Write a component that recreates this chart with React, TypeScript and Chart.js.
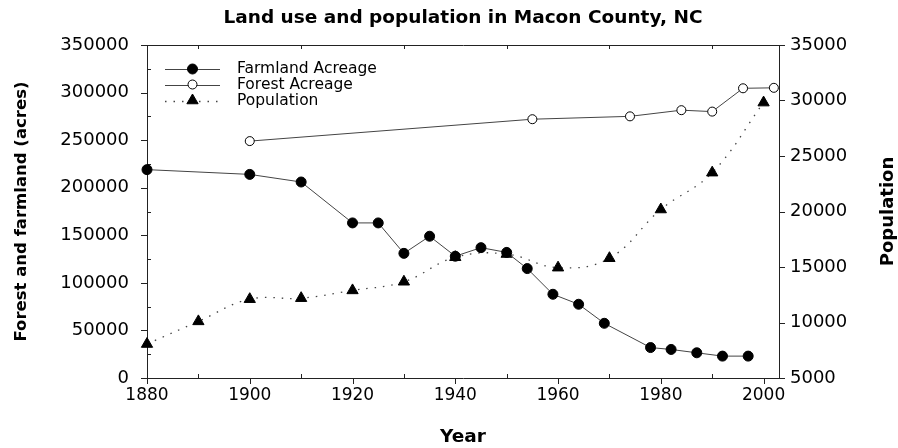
import React, { useEffect, useRef } from 'react';
import { Chart, registerables } from 'chart.js';

Chart.register(...registerables);

// ---- data ----
const farmYears = [1880, 1900, 1910, 1920, 1925, 1930, 1935, 1940, 1945, 1950, 1954, 1959, 1964, 1969, 1978, 1982, 1987, 1992, 1997];
const farmAcres = [219000, 214000, 206000, 163000, 163000, 131000, 149000, 128000, 137000, 132000, 115000, 88000, 77500, 57500, 32000, 30000, 26500, 23000, 23000];

const forestYears = [1900, 1955, 1974, 1984, 1990, 1996, 2002];
const forestAcres = [249000, 272000, 275000, 281500, 280000, 304500, 305000];

const popYears = [1880, 1890, 1900, 1910, 1920, 1930, 1940, 1950, 1960, 1970, 1980, 1990, 2000];
const population = [8060, 10100, 12100, 12190, 12890, 13670, 15880, 16170, 14940, 15790, 20180, 23500, 29810];

const seriesLabels = ['Farmland Acreage', 'Forest Acreage', 'Population'];

const xMajorTicks = [1880, 1900, 1920, 1940, 1960, 1980, 2000];
const xMinorTicks = [1890, 1910, 1930, 1950, 1970, 1990];
const leftMajorTicks = [0, 50000, 100000, 150000, 200000, 250000, 300000, 350000];
const leftMinorTicks = [25000, 75000, 125000, 175000, 225000, 275000, 325000];
const rightTicks = [5000, 10000, 15000, 20000, 25000, 30000, 35000];

const chartTitle = 'Land use and population in Macon County, NC';
const xTitle = 'Year';
const leftTitle = 'Forest and farmland (acres)';
const rightTitle = 'Population';

const FONT = '"DejaVu Sans", sans-serif';
const AXIS = '#222';

const framePlugin = {
  id: 'frameTicks',
  beforeDatasetsDraw(chart: any) {
    const { ctx, chartArea: a, scales } = chart;
    ctx.save();
    ctx.strokeStyle = AXIS;
    ctx.lineWidth = 1;
    ctx.beginPath();
    // top frame line
    ctx.moveTo(a.left, Math.round(a.top) + 0.5);
    ctx.lineTo(a.right + 1, Math.round(a.top) + 0.5);
    // x ticks
    xMajorTicks.forEach((v) => {
      const px = Math.round(scales.x.getPixelForValue(v)) + 0.5;
      ctx.moveTo(px, a.bottom);
      ctx.lineTo(px, a.bottom + 6);
    });
    xMinorTicks.forEach((v) => {
      const px = Math.round(scales.x.getPixelForValue(v)) + 0.5;
      ctx.moveTo(px, a.bottom);
      ctx.lineTo(px, a.bottom - 4);
      ctx.moveTo(px, a.top);
      ctx.lineTo(px, a.top + 4);
    });
    // left ticks
    leftMajorTicks.forEach((v) => {
      const py = Math.round(scales.y.getPixelForValue(v)) + 0.5;
      ctx.moveTo(a.left - 6, py);
      ctx.lineTo(a.left, py);
    });
    leftMinorTicks.forEach((v) => {
      const py = Math.round(scales.y.getPixelForValue(v)) + 0.5;
      ctx.moveTo(a.left, py);
      ctx.lineTo(a.left + 4, py);
    });
    // right ticks
    rightTicks.forEach((v) => {
      const py = Math.round(scales.y1.getPixelForValue(v)) + 0.5;
      ctx.moveTo(a.right, py);
      ctx.lineTo(a.right + 6, py);
    });
    ctx.stroke();
    ctx.restore();

    // right axis title, reading bottom-to-top
    ctx.save();
    ctx.translate(888, (a.top + a.bottom) / 2);
    ctx.rotate(-Math.PI / 2);
    ctx.fillStyle = '#000';
    ctx.font = 'bold 18px ' + FONT;
    ctx.textAlign = 'center';
    ctx.textBaseline = 'middle';
    ctx.fillText(rightTitle, 0, 0);
    ctx.restore();
  },
};

function drawMarker(ctx: CanvasRenderingContext2D, style: string, x: number, y: number, r: number, fill: string) {
  ctx.save();
  ctx.setLineDash([]);
  ctx.fillStyle = fill;
  ctx.strokeStyle = '#000';
  ctx.lineWidth = 1;
  ctx.beginPath();
  if (style === 'triangle') {
    ctx.moveTo(x, y - r);
    ctx.lineTo(x + r * Math.sin(2 * Math.PI / 3), y + r / 2);
    ctx.lineTo(x - r * Math.sin(2 * Math.PI / 3), y + r / 2);
    ctx.closePath();
  } else {
    ctx.arc(x, y, r, 0, Math.PI * 2);
  }
  ctx.fill();
  ctx.stroke();
  ctx.restore();
}

const legendPlugin = {
  id: 'innerLegend',
  afterDatasetsDraw(chart: any) {
    const { ctx, chartArea: a } = chart;
    const rowY = [a.top + 24, a.top + 39.5, a.top + 55.5];
    const x0 = a.left + 18;
    const x1 = a.left + 73;
    const xm = (x0 + x1) / 2;
    chart.data.datasets.forEach((ds: any, i: number) => {
      const y = rowY[i];
      ctx.save();
      ctx.strokeStyle = ds.borderColor;
      ctx.lineWidth = ds.borderWidth;
      ctx.setLineDash(ds.borderDash || []);
      ctx.beginPath();
      ctx.moveTo(x0, Math.round(y) + 0.5);
      ctx.lineTo(x1, Math.round(y) + 0.5);
      ctx.stroke();
      ctx.restore();
      drawMarker(ctx, ds.pointStyle, xm, y, ds.pointRadius, ds.pointBackgroundColor);
      ctx.save();
      ctx.fillStyle = '#000';
      ctx.font = '15.5px ' + FONT;
      ctx.textBaseline = 'middle';
      ctx.textAlign = 'left';
      ctx.fillText(seriesLabels[i], a.left + 90, y);
      ctx.restore();
    });
  },
};

export default function App() {
  const ref = useRef<HTMLCanvasElement | null>(null);

  useEffect(() => {
    if (!ref.current) return;
    const chart = new Chart(ref.current, {
      type: 'line',
      data: {
        datasets: [
          {
            label: seriesLabels[0],
            data: farmYears.map((x, i) => ({ x, y: farmAcres[i] })),
            yAxisID: 'y',
            borderColor: '#444',
            borderWidth: 1,
            pointStyle: 'circle',
            pointRadius: 5,
            pointBackgroundColor: '#000',
            pointBorderColor: '#000',
            pointBorderWidth: 1,
            tension: 0,
            clip: false,
          },
          {
            label: seriesLabels[1],
            data: forestYears.map((x, i) => ({ x, y: forestAcres[i] })),
            yAxisID: 'y',
            borderColor: '#444',
            borderWidth: 1,
            pointStyle: 'circle',
            pointRadius: 4.5,
            pointBackgroundColor: '#fff',
            pointBorderColor: '#000',
            pointBorderWidth: 1,
            tension: 0,
            clip: false,
          },
          {
            label: seriesLabels[2],
            data: popYears.map((x, i) => ({ x, y: population[i] })),
            yAxisID: 'y1',
            borderColor: '#444',
            borderWidth: 1.3,
            borderDash: [1.5, 7],
            pointStyle: 'triangle',
            pointRadius: 6.5,
            pointBackgroundColor: '#000',
            pointBorderColor: '#000',
            pointBorderWidth: 1,
            tension: 0.4,
            clip: false,
          },
        ],
      } as any,
      options: {
        animation: false,
        responsive: false,
        maintainAspectRatio: false,
        layout: { padding: 0 },
        plugins: {
          legend: { display: false },
          tooltip: { enabled: false },
          title: {
            display: true,
            fullSize: false,
            text: chartTitle,
            color: '#000',
            font: { family: FONT, size: 18.5, weight: 'bold' },
            padding: { top: 7.5, bottom: 15.3 },
          },
        },
        scales: {
          x: {
            type: 'linear',
            position: 'bottom',
            min: 1880,
            max: 2003,
            afterFit: (s: any) => { s.height = 70; },
            afterBuildTicks: (s: any) => { s.ticks = xMajorTicks.map((v) => ({ value: v })); },
            grid: { display: false, drawTicks: false },
            border: { display: true, color: AXIS, width: 1 },
            ticks: {
              color: '#000',
              padding: 7,
              maxRotation: 0,
              autoSkip: false,
              font: { family: FONT, size: 17 },
              callback: (v: any) => String(v),
            },
            title: {
              display: true,
              text: xTitle,
              color: '#000',
              font: { family: FONT, size: 18.5, weight: 'bold' },
              padding: { top: 0, bottom: 0 },
            },
          },
          y: {
            type: 'linear',
            position: 'left',
            min: 0,
            max: 350000,
            afterFit: (s: any) => { s.width = 147; },
            afterBuildTicks: (s: any) => { s.ticks = leftMajorTicks.map((v) => ({ value: v })); },
            grid: { display: false, drawTicks: false },
            border: { display: true, color: AXIS, width: 1 },
            ticks: {
              color: '#000',
              padding: 18,
              autoSkip: false,
              font: { family: FONT, size: 18 },
              callback: (v: any) => String(v),
            },
            title: {
              display: true,
              text: leftTitle,
              color: '#000',
              font: { family: FONT, size: 16.5, weight: 'bold' },
              padding: { top: 12, bottom: 0 },
            },
          },
          y1: {
            type: 'linear',
            position: 'right',
            min: 5000,
            max: 35000,
            afterFit: (s: any) => { s.width = 119; },
            afterBuildTicks: (s: any) => { s.ticks = rightTicks.map((v) => ({ value: v })); },
            grid: { display: false, drawTicks: false },
            border: { display: true, color: AXIS, width: 1 },
            ticks: {
              color: '#000',
              padding: 11,
              autoSkip: false,
              font: { family: FONT, size: 18 },
              callback: (v: any) => String(v),
            },
            title: { display: false },
          },
        },
      } as any,
      plugins: [framePlugin, legendPlugin],
    });
    return () => chart.destroy();
  }, []);

  return (
    <div style={{ position: 'fixed', left: 0, top: 0, width: 898, height: 448, background: '#fff' }}>
      <canvas ref={ref} width={898} height={448} style={{ display: 'block' }} />
    </div>
  );
}
